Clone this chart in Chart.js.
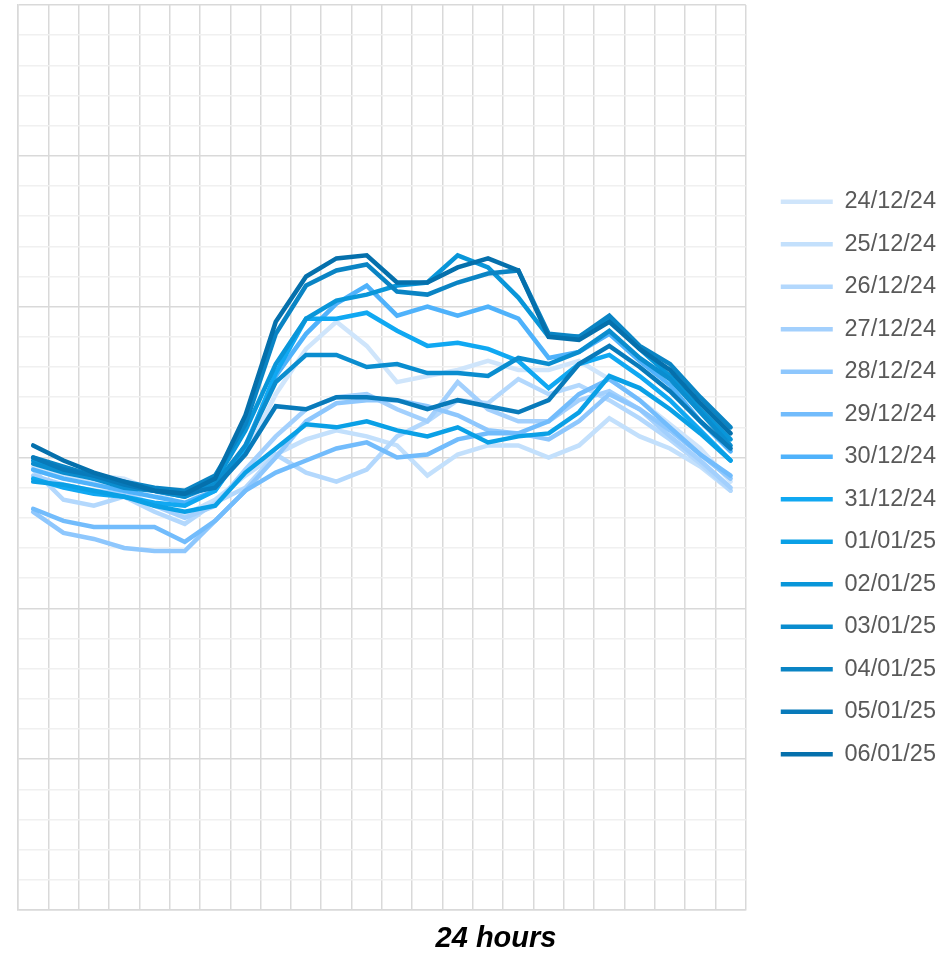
<!DOCTYPE html>
<html>
<head>
<meta charset="utf-8">
<script src="https://cdn.jsdelivr.net/npm/chart.js@4/dist/chart.umd.min.js"></script>
<style>
  body { margin: 0; background: #fff; }
</style>
</head>
<body>
<canvas id="myChart" width="948" height="956"></canvas>
<script>
  // hours of the day (labels hidden on the chart)
  const hours = ["00","01","02","03","04","05","06","07","08","09","10","11","12","13","14","15","16","17","18","19","20","21","22","23"];

  const days = ["24/12/24","25/12/24","26/12/24","27/12/24","28/12/24","29/12/24","30/12/24","31/12/24","01/01/25","02/01/25","03/01/25","04/01/25","05/01/25","06/01/25"];

  const colors = ["#cfe5fb","#c3e0fc","#b3d8fd","#a3d0fd","#8ec7fd","#72bcfc","#4fb2fb","#10a8f2","#0aa0e6","#0996d9","#0a8dcf","#0a84c4","#087aba","#0570ac"];

  const d2412 = [14.7,14.4,14.4,14.3,13.9,13.4,14.3,15.1,17.1,18.6,19.5,18.7,17.5,17.7,17.9,18.2,17.9,17.9,18.2,17.6,16.9,16.1,15.3,14.2];
  const d2512 = [14.6,14.3,14.2,13.9,13.4,13.1,13.6,14.4,15.1,15.6,15.9,15.7,15.4,14.4,15.1,15.4,15.4,15.0,15.4,16.3,15.7,15.3,14.7,13.9];
  const d2612 = [14.6,13.6,13.4,13.7,13.2,12.8,13.5,14.0,15.1,14.5,14.2,14.6,15.7,16.2,16.9,16.8,17.6,17.1,17.4,16.9,16.3,15.6,14.8,13.9];
  const d2712 = [14.4,14.1,13.9,13.8,13.4,13.0,13.4,14.6,15.7,16.6,17.0,17.1,16.6,16.2,17.5,16.6,16.2,16.2,16.9,17.2,16.6,15.7,14.9,14.0];
  const d2812 = [13.2,12.5,12.3,12.0,11.9,11.9,12.9,13.9,15.0,16.2,16.8,16.9,16.9,16.7,16.4,15.9,15.8,15.6,16.2,17.1,16.6,15.9,15.1,14.3];
  const d2912 = [13.3,12.9,12.7,12.7,12.7,12.2,12.9,13.9,14.5,14.9,15.3,15.5,15.0,15.1,15.6,15.8,15.8,16.2,17.1,17.6,16.9,16.0,15.1,14.4];
  const d3012 = [14.6,14.3,14.1,13.9,13.7,13.5,13.9,15.4,17.7,19.1,20.1,20.7,19.7,20.0,19.7,20.0,19.6,18.3,18.5,19.1,18.2,17.4,16.2,15.2];
  const d3112 = [14.3,14.0,13.8,13.7,13.5,13.4,13.9,15.3,17.8,19.6,19.6,19.8,19.2,18.7,18.8,18.6,18.2,17.3,18.1,18.4,17.7,16.9,15.9,14.9];
  const d0101 = [14.2,14.1,13.9,13.7,13.4,13.2,13.4,14.5,15.3,16.1,16.0,16.2,15.9,15.7,16.0,15.5,15.7,15.8,16.5,17.7,17.3,16.6,15.8,14.9];
  const d0201 = [14.9,14.6,14.3,14.1,13.9,13.7,14.2,15.9,18.1,19.6,20.2,20.4,20.7,20.8,21.7,21.3,20.3,19.0,19.0,19.6,18.6,17.7,16.6,15.6];
  const d0301 = [14.8,14.5,14.3,14.0,13.9,13.7,14.1,15.4,17.5,18.4,18.4,18.0,18.1,17.8,17.8,17.7,18.3,18.1,18.5,19.2,18.3,17.6,16.5,15.4];
  const d0401 = [15.0,14.7,14.4,14.2,14.0,13.9,14.4,16.1,19.1,20.7,21.2,21.4,20.5,20.4,20.8,21.1,21.2,19.1,19.0,19.7,18.7,18.1,17.0,16.0];
  const d0501 = [15.0,14.6,14.4,14.1,13.9,13.8,14.0,15.1,16.7,16.6,17.0,17.0,16.9,16.6,16.9,16.7,16.5,16.9,18.1,18.7,18.0,17.2,16.2,15.3];
  const d0601 = [15.4,14.9,14.5,14.2,13.9,13.8,14.3,16.4,19.5,21.0,21.6,21.7,20.8,20.8,21.3,21.6,21.2,19.0,18.9,19.5,18.6,17.9,16.8,15.8];

  const series = [d2412,d2512,d2612,d2712,d2812,d2912,d3012,d3112,d0101,d0201,d0301,d0401,d0501,d0601];

  const datasets = series.map((vals, i) => ({
    label: days[i],
    data: vals,
    borderColor: colors[i],
    backgroundColor: colors[i],
    borderWidth: 4.5,
    borderCapStyle: "round",
    pointRadius: 0,
    fill: false,
    tension: 0,
    order: series.length - i, // later days drawn on top
  }));

  // x axis caption, placed under the plot
  const captionPlugin = {
    id: "caption",
    afterDraw(chart) {
      const ctx = chart.ctx;
      ctx.save();
      ctx.font = "italic bold 29px 'Liberation Sans', Arial, sans-serif";
      ctx.fillStyle = "#000";
      ctx.textAlign = "center";
      ctx.textBaseline = "middle";
      ctx.fillText("24 hours", 496, 939);
      ctx.restore();
    },
  };

  const config = {
    type: "line",
    data: { labels: hours, datasets: datasets },
    options: {
      responsive: false,
      animation: false,
      layout: { padding: { left: 18, top: 0, right: 2, bottom: 0 } },
      plugins: {
        tooltip: { enabled: false },
        legend: {
          position: "right",
          maxWidth: 300,
          labels: {
            usePointStyle: true,
            pointStyle: "line",
            pointStyleWidth: 52,
            padding: 19.0,
            color: "#595959",
            font: { family: "'Liberation Sans', Arial, sans-serif", size: 23.5 },
            sort: (a, b) => a.datasetIndex - b.datasetIndex,
          },
        },
      },
      scales: {
        x: {
          offset: true,
          grid: { offset: true, color: "#d9d9d9", lineWidth: 1.5, drawTicks: false },
          border: { color: "#d9d9d9", width: 1.5 },
          ticks: { display: false },
          afterFit: (s) => { s.height = 46; },
        },
        xTop: {
          position: "top",
          grid: { display: false },
          border: { display: false },
          ticks: { display: false },
          afterFit: (s) => { s.height = 5; },
        },
        y: {
          min: 0,
          max: 30,
          ticks: { stepSize: 1, display: false },
          grid: {
            color: (c) => (c.tick.value % 5 === 0 ? "#d9d9d9" : "#f0f0f0"),
            lineWidth: 1.5,
            drawTicks: false,
          },
          border: { color: "#d9d9d9", width: 1.5 },
          afterFit: (s) => { s.width = 0; },
        },
        yRight: {
          position: "right",
          grid: { display: false },
          border: { display: false },
          ticks: { display: false },
          afterFit: (s) => { s.width = 16; },
        },
      },
    },
    plugins: [captionPlugin],
  };

  const myChart = new Chart(document.getElementById("myChart"), config);
</script>
</body>
</html>
